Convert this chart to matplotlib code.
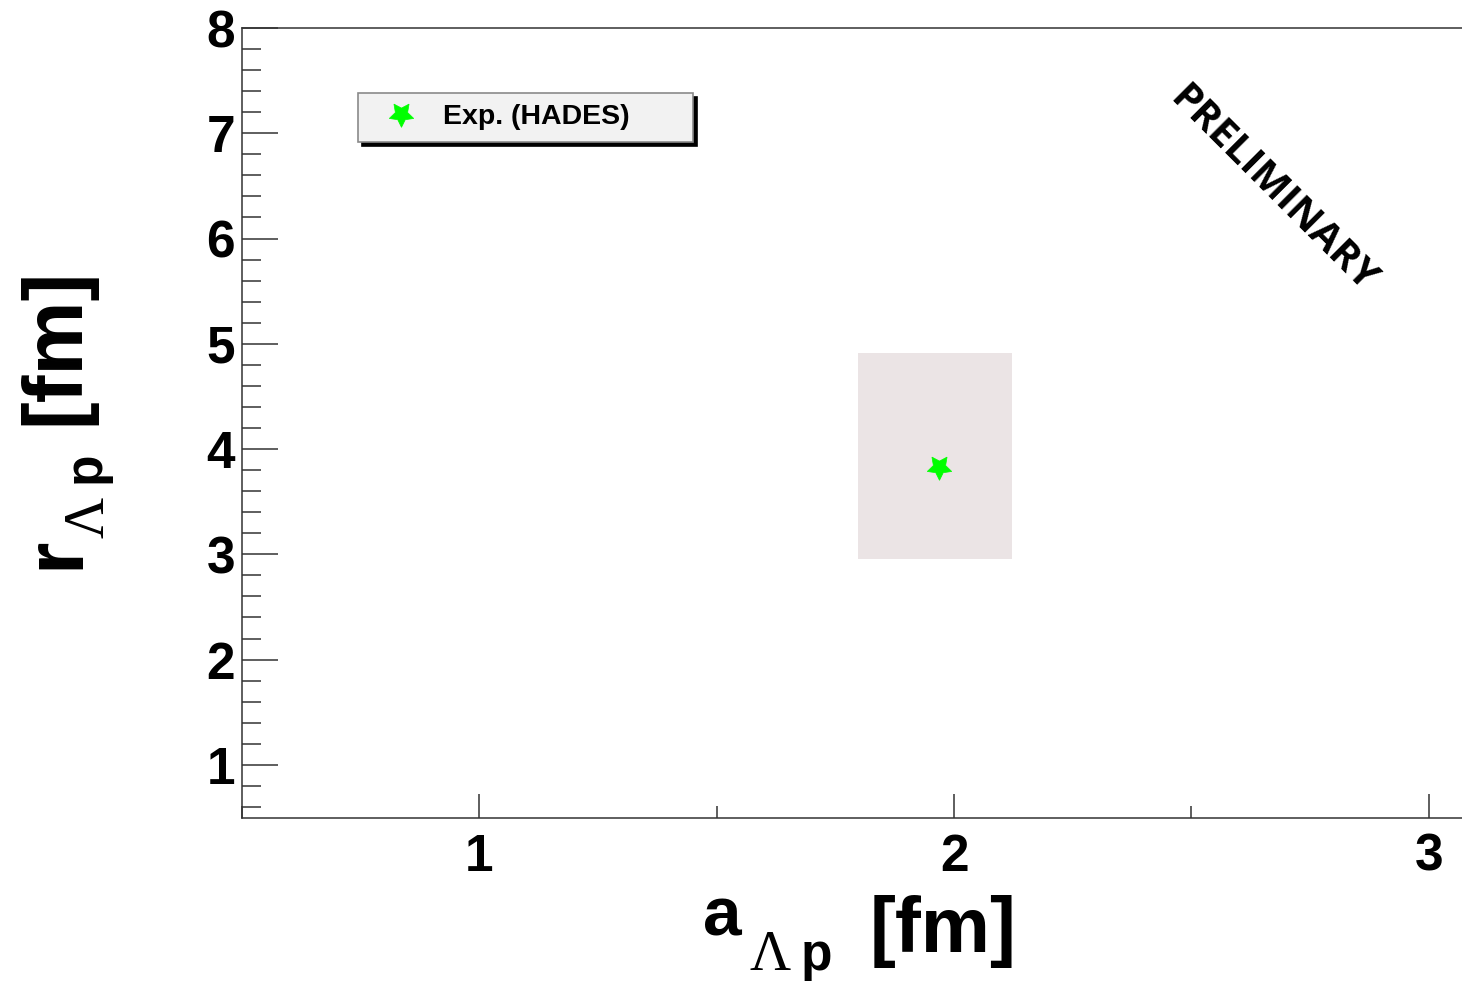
import matplotlib
matplotlib.use("Agg")
import matplotlib.pyplot as plt
from matplotlib.patches import Rectangle
from matplotlib.ticker import MultipleLocator, FixedLocator

# Lambda-p scattering parameters (HADES)
a_value = 1.969          # scattering length a [fm]
r_value = 3.834          # effective range r [fm]
a_range = [1.797, 2.122] # allowed band in a [fm]
r_range = [2.959, 4.913] # allowed band in r [fm]
series_label = "Exp. (HADES)"

x_ticks = [1, 2, 3]
y_ticks = [1, 2, 3, 4, 5, 6, 7, 8]
x_limits = [0.5, 3.07]
y_limits = [0.5, 8.0]

W, H = 1462, 982
DPI = 100
fig = plt.figure(figsize=(W / DPI, H / DPI), dpi=DPI)
fig.patch.set_facecolor("white")

left, right, top, bottom = 242, 1462, 28, 817.5
ax = fig.add_axes([left / W, 1 - bottom / H, (right - left) / W, (bottom - top) / H])
ax.set_xlim(*x_limits)
ax.set_ylim(*y_limits)

spine_color = "#333333"
for side in ("left", "bottom", "top"):
    ax.spines[side].set_color(spine_color)
    ax.spines[side].set_linewidth(1.1)
ax.spines["right"].set_visible(False)

ax.xaxis.set_major_locator(FixedLocator(x_ticks))
ax.xaxis.set_minor_locator(MultipleLocator(0.5))
ax.yaxis.set_major_locator(FixedLocator(y_ticks))
ax.yaxis.set_minor_locator(MultipleLocator(0.2))
ax.tick_params(axis="both", which="both", direction="in", color=spine_color, width=1.1,
               top=False, right=False)
ax.tick_params(axis="x", which="major", length=17, pad=11)
ax.tick_params(axis="x", which="minor", length=9)
ax.tick_params(axis="y", which="major", length=26, pad=5)
ax.tick_params(axis="y", which="minor", length=13.7)
ax.set_xticklabels([str(t) for t in x_ticks])
ax.set_yticklabels([str(t) for t in y_ticks])
for lab in ax.get_xticklabels() + ax.get_yticklabels():
    lab.set_fontfamily("Liberation Sans")
    lab.set_fontweight("bold")
    lab.set_fontsize(37)

# allowed region band (fine dotted fill)
plt.rcParams["hatch.linewidth"] = 0.7
plt.rcParams["hatch.color"] = "#bfa3a7"
band = Rectangle((a_range[0], r_range[0]), a_range[1] - a_range[0], r_range[1] - r_range[0],
                 facecolor="#ebe4e5", edgecolor="none", hatch="|" * 28, zorder=1)
ax.add_patch(band)

# measured point
ax.plot([a_value], [r_value], linestyle="none", marker=(5, 1, 180), markersize=18.5,
        color="#00ff00", markeredgecolor="#00ff00", markeredgewidth=0.5,
        label=series_label, zorder=3)

leg = ax.legend(loc="upper left", mode="expand",
                bbox_to_anchor=(358 / W, 1 - 143 / H, 335 / W, 50 / H),
                bbox_transform=fig.transFigure, borderaxespad=0,
                prop={"family": "Liberation Sans", "weight": "bold", "size": 20.5},
                borderpad=0.4, handlelength=2.2, handletextpad=0.38,
                fancybox=False, framealpha=1, facecolor="#f2f2f2", edgecolor="#8a8a8a",
                shadow={"ox": 3, "oy": -3, "facecolor": "black",
                        "edgecolor": "black", "alpha": 1})
leg.get_frame().set_linewidth(1.2)


def ftext(x, y, s, **kw):
    fig.text(x / W, 1 - y / H, s, transform=fig.transFigure, **kw)


sans_bold = dict(family="Liberation Sans", weight="bold", color="black")
serif = dict(family="Liberation Serif", weight="normal", color="black")

# x-axis title: a_{Λ p} [fm]
ftext(703, 935, "a", size=50, ha="left", va="baseline", **sans_bold)
ftext(749, 970, "Λ", size=41, ha="left", va="baseline", **serif)
ftext(801, 970, "p", size=37, ha="left", va="baseline", **sans_bold)
ftext(870, 952, "[fm]", size=56, ha="left", va="baseline", **sans_bold)

# y-axis title: r_{Λ p} [fm]
rot = dict(rotation=90, rotation_mode="anchor", ha="left", va="baseline")
ftext(78, 569, "r", size=60, **rot, **sans_bold)
ftext(103, 538, "Λ", size=41, **rot, **serif)
ftext(100, 483, "p", size=37, **rot, **sans_bold)
ftext(78, 425, "[fm]", size=60, **rot, **sans_bold)

ftext(1273, 190, "PRELIMINARY", size=29, rotation=-45, rotation_mode="anchor",
      ha="center", va="center", family="Open Sans", weight="bold", color="black")

fig.savefig("out.png", dpi=DPI)
